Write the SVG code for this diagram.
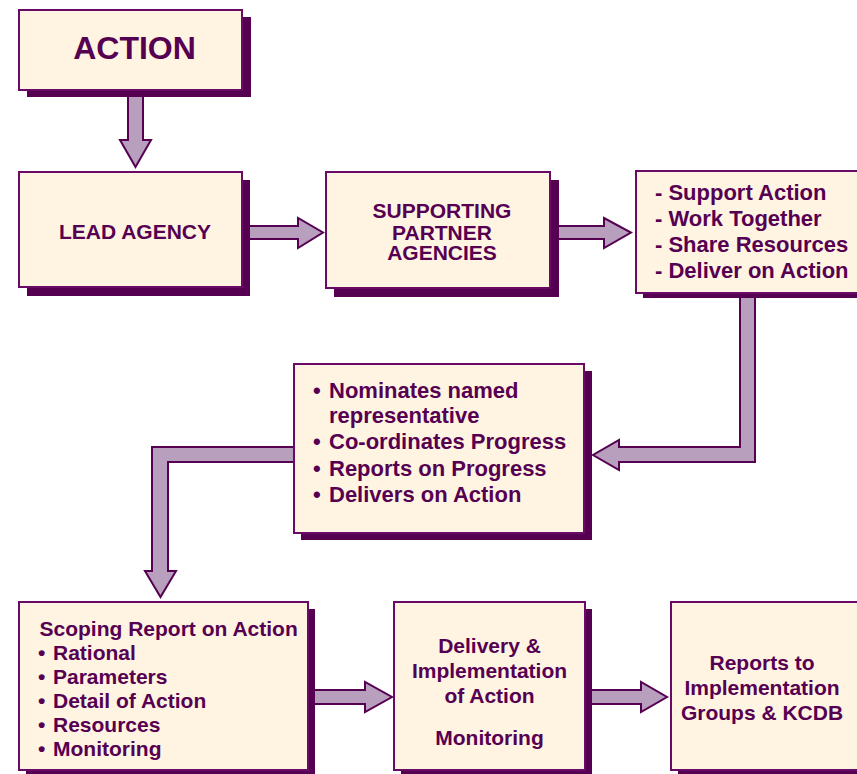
<svg xmlns="http://www.w3.org/2000/svg" width="857" height="774" viewBox="0 0 857 774">
<style>
.sh{fill:#560052}
.bx{fill:#fef4e1;stroke:#680a66;stroke-width:2}
.ar{fill:#b79fbd;stroke:#560052;stroke-width:2;stroke-linejoin:miter}
text{font-family:"Liberation Sans",Arial,sans-serif;font-weight:bold;fill:#560052}
.c{text-anchor:middle;font-size:21px}
.l{font-size:21px}
.m{font-size:22px}
</style>
<rect width="857" height="774" fill="#ffffff"/>
<g id="connectors">
<polygon class="ar" points="128,95 143,95 143,140 151,140 135.5,167 120,140 128,140"/>
<polygon class="ar" points="245,226 298,226 298,218 323,232.5 298,248 298,239 245,239"/>
<polygon class="ar" points="552,226 604,226 604,218 631,232.5 604,248 604,239 552,239"/>
<polygon class="ar" points="740,292 755,292 755,462 619,462 619,470 593,455 619,440 619,447 740,447"/>
<polygon class="ar" points="300,447 152,447 152,571 145,571 160.5,597 176,571 168,571 168,462 300,462"/>
<polygon class="ar" points="310,690 365,690 365,682 392,697 365,712 365,704 310,704"/>
<polygon class="ar" points="588,690 641,690 641,682 667,697 641,712 641,704 588,704"/>
</g>
<g id="action">
<rect class="sh" x="27" y="17" width="224" height="80"/>
<rect class="bx" x="19" y="10" width="223" height="80"/>
<text x="134.5" y="59" text-anchor="middle" font-size="32">ACTION</text>
</g>
<g id="lead">
<rect class="sh" x="27" y="180" width="223" height="116"/>
<rect class="bx" x="19" y="172" width="223" height="115"/>
<text class="c" x="135" y="239">LEAD AGENCY</text>
</g>
<g id="supporting">
<rect class="sh" x="334" y="180" width="225" height="117"/>
<rect class="bx" x="326" y="172" width="224" height="116"/>
<text class="c" x="442" y="217.5">SUPPORTING</text>
<text class="c" x="442" y="239.5">PARTNER</text>
<text class="c" x="442" y="260">AGENCIES</text>
</g>
<g id="roles">
<rect class="sh" x="643" y="178" width="240" height="120"/>
<rect class="bx" x="636" y="171" width="240" height="122"/>
<text class="m" x="655" y="200">- Support Action</text>
<text class="m" x="655" y="226">- Work Together</text>
<text class="m" x="655" y="252">- Share Resources</text>
<text class="m" x="655" y="278">- Deliver on Action</text>
</g>
<g id="nominates">
<rect class="sh" x="301" y="371" width="291" height="169"/>
<rect class="bx" x="294" y="364" width="290" height="169"/>
<text class="m" x="313" y="398">•</text>
<text class="m" x="329" y="398">Nominates named</text>
<text class="m" x="329" y="423">representative</text>
<text class="m" x="313" y="449">•</text>
<text class="m" x="329" y="449">Co-ordinates Progress</text>
<text class="m" x="313" y="476">•</text>
<text class="m" x="329" y="476">Reports on Progress</text>
<text class="m" x="313" y="502">•</text>
<text class="m" x="329" y="502">Delivers on Action</text>
</g>
<g id="scoping">
<rect class="sh" x="26" y="609" width="289" height="168"/>
<rect class="bx" x="19" y="602" width="289" height="168"/>
<text class="l" x="39.5" y="636">Scoping Report on Action</text>
<text class="l" x="38" y="660">•</text>
<text class="l" x="53" y="660">Rational</text>
<text class="l" x="38" y="684">•</text>
<text class="l" x="53" y="684">Parameters</text>
<text class="l" x="38" y="708">•</text>
<text class="l" x="53" y="708">Detail of Action</text>
<text class="l" x="38" y="732">•</text>
<text class="l" x="53" y="732">Resources</text>
<text class="l" x="38" y="756">•</text>
<text class="l" x="53" y="756">Monitoring</text>
</g>
<g id="delivery">
<rect class="sh" x="401" y="609" width="191" height="168"/>
<rect class="bx" x="394" y="602" width="191" height="168"/>
<text class="c" x="489.5" y="653">Delivery &amp;</text>
<text class="c" x="489.5" y="678">Implementation</text>
<text class="c" x="489.5" y="703">of Action</text>
<text class="c" x="489.5" y="745">Monitoring</text>
</g>
<g id="reports">
<rect class="sh" x="678" y="609" width="200" height="168"/>
<rect class="bx" x="671" y="602" width="200" height="168"/>
<text class="c" x="762" y="670">Reports to</text>
<text class="c" x="762" y="695">Implementation</text>
<text class="c" x="762" y="720">Groups &amp; KCDB</text>
</g>
</svg>
